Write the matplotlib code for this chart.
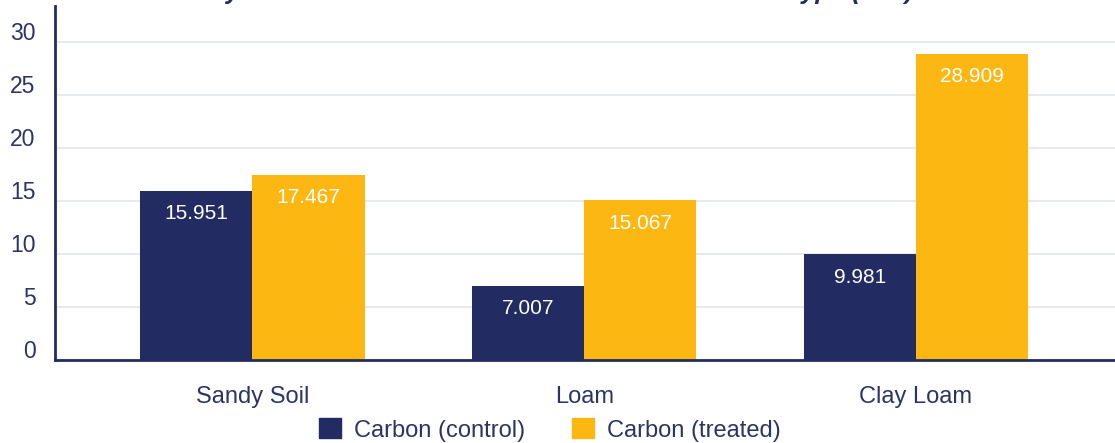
import matplotlib
matplotlib.use("Agg")
import matplotlib.pyplot as plt
import matplotlib.transforms as mtransforms
from matplotlib.patches import Patch
import numpy as np

categories = ["Sandy Soil", "Loam", "Clay Loam"]
control = [15.951, 7.007, 9.981]
treated = [17.467, 15.067, 28.909]
series_names = ["Carbon (control)", "Carbon (treated)"]
yticks = [0, 5, 10, 15, 20, 25, 30]
title = "Study of Carbon Content in Control vs Treated Soil Type (t/ha)"

navy = "#222c62"
gold = "#fdb713"
text_c = "#2b3467"

plt.rcParams['font.family'] = ['Liberation Sans', 'DejaVu Sans']

fig = plt.figure(figsize=(11.15, 4.43), dpi=100)
W, H = 1115, 443
ax = fig.add_axes([55 / W, (H - 360) / H, (1115 - 55) / W, (360 - 6) / H])

x = np.arange(len(categories))
bw = 0.338
b1 = ax.bar(x - bw / 2, control, width=bw, color=navy, zorder=3)
b2 = ax.bar(x + bw / 2, treated, width=bw, color=gold, zorder=3)

for bars, vals in ((b1, control), (b2, treated)):
    for rect, v in zip(bars, vals):
        ax.annotate(f"{v:.3f}", (rect.get_x() + rect.get_width() / 2, v),
                    xytext=(0, -23), textcoords="offset pixels",
                    ha="center", va="center", color="white", fontsize=15, zorder=4)

ax.set_xlim(-0.595, 2.6)
ax.set_ylim(0, 33.4)
ax.set_yticks(yticks)
ax.set_xticks(x)
ax.set_xticklabels(categories)
ax.tick_params(axis="both", length=0, labelcolor=text_c)
ax.tick_params(axis="x", pad=19, labelsize=17)
ax.tick_params(axis="y", pad=14, labelsize=16.5)
offset = mtransforms.ScaledTranslation(0, 11 / 100, fig.dpi_scale_trans)
for lab in ax.get_yticklabels():
    lab.set_transform(lab.get_transform() + offset)

ax.grid(axis="y", color="#e6e6ee", linewidth=1.3, zorder=0)
ax.set_axisbelow(True)
for s in ("top", "right"):
    ax.spines[s].set_visible(False)
for s in ("left", "bottom"):
    ax.spines[s].set_color(navy)
    ax.spines[s].set_linewidth(2)
    ax.spines[s].set_zorder(5)

handles = [Patch(color=navy), Patch(color=gold)]
fig.legend(handles, series_names, loc="center", bbox_to_anchor=(550 / W, (H - 430) / H),
           ncol=2, frameon=False, fontsize=17, labelcolor=text_c,
           handlelength=0.93, handleheight=0.93, handletextpad=0.55, columnspacing=2.0,
           borderpad=0)

fig.text(170 / W, (H + 1.5) / H, title, fontsize=18.2, fontweight="bold", fontstyle="italic",
         color=navy, ha="left", va="baseline")

fig.savefig("out.png", dpi=100)
